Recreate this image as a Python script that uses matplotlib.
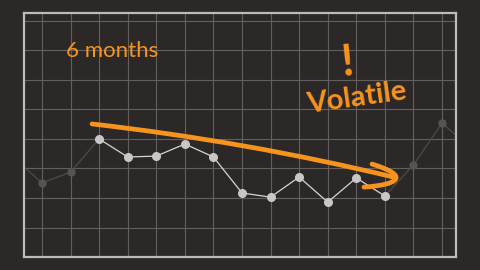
import numpy as np
import matplotlib
matplotlib.use("Agg")
import matplotlib.pyplot as plt
from matplotlib.path import Path
from matplotlib.patches import PathPatch

# monthly values (index -1 and 15 sit just outside the frame)
months = list(range(-1, 16))
values = [3.37, 2.51, 2.88, 4.00, 3.39, 3.42, 3.83, 3.39, 2.17, 2.03,
          2.71, 1.86, 2.68, 2.07, 3.12, 4.54, 3.69]
window = (2, 12)  # highlighted "6 months" range

bg = "#2c2828"
orange = "#f7941d"

fig = plt.figure(figsize=(4.8, 2.7), dpi=100, facecolor=bg)
ax = fig.add_axes([0.05, 0.048, 0.9, 0.904])
ax.set_facecolor(bg)
ax.set_xlim(-0.63, 14.49)
ax.set_ylim(0, 8.27)
ax.set_xticks(range(0, 15))
ax.set_yticks(range(1, 9))
ax.grid(True, color="#635f5f", lw=0.8)
ax.tick_params(length=0, labelbottom=False, labelleft=False)
for s in ax.spines.values():
    s.set_color("#bdbaba")
    s.set_linewidth(1.6)

x = np.array(months)
y = np.array(values)
lo, hi = window
# faded context
ax.plot(x[: lo + 2], y[: lo + 2], color="#4e4a4a", lw=0.9, marker="o",
        ms=5, mfc="#575353", mec="#575353", zorder=2)
ax.plot(x[hi + 1:], y[hi + 1:], color="#4e4a4a", lw=0.9, marker="o",
        ms=5, mfc="#575353", mec="#575353", zorder=2)
# highlighted window
m = (x >= lo) & (x <= hi)
ax.plot(x[m], y[m], color="#d8d5d5", lw=0.9, marker="o", ms=5.5,
        mfc="#c9c6c6", mec="#c9c6c6", zorder=3)

# hand-drawn style arrow
verts = [(1.75, 4.51), (7.1, 3.92), (12.3, 2.71)]
path = Path(verts, [Path.MOVETO, Path.CURVE3, Path.CURVE3])
ax.add_patch(PathPatch(path, fc="none", ec=orange, lw=3.4,
                       capstyle="round", zorder=4))
hook = Path([(11.55, 3.15), (12.9, 2.75), (12.5, 2.45), (11.27, 2.37)],
            [Path.MOVETO, Path.CURVE4, Path.CURVE4, Path.CURVE4])
ax.add_patch(PathPatch(hook, fc="none", ec=orange, lw=3.4,
                       capstyle="round", joinstyle="round", zorder=4))

ax.text(0.84, 6.78, "6 months", color=orange, fontsize=16, family="Lato",
        ha="left", va="baseline", zorder=5)
ax.text(11.03, 5.39, "Volatile", color=orange, fontsize=21, family="Lato",
        weight="bold", ha="center", va="center", rotation=8, zorder=5)
ax.text(10.68, 6.61, "!", color=orange, fontsize=32, family="Lato",
        weight="bold", ha="center", va="center", rotation=6, zorder=5)

fig.savefig("out.png", dpi=100, facecolor=bg)
